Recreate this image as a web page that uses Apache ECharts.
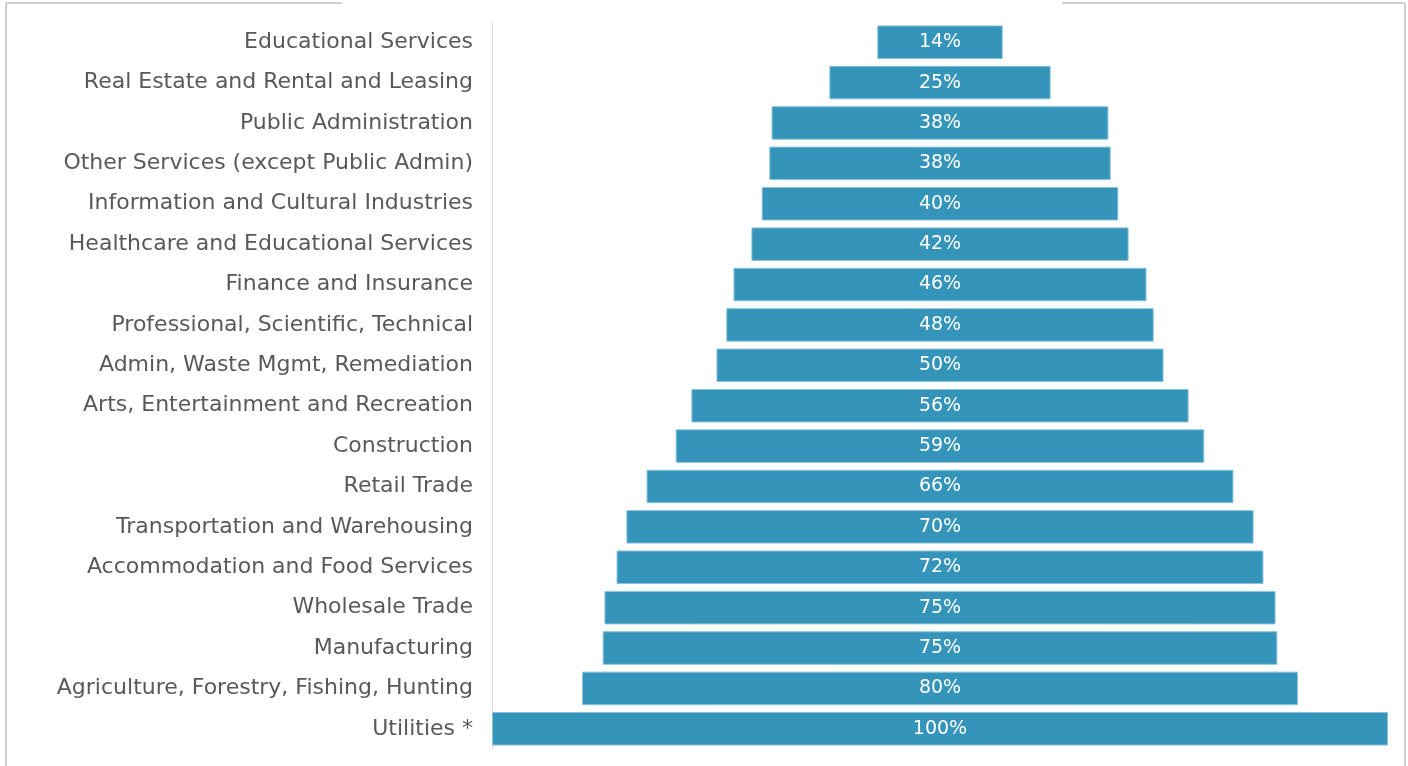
<!DOCTYPE html>
<html>
<head>
<meta charset="utf-8">
<script src="https://cdn.jsdelivr.net/npm/echarts@6/dist/echarts.min.js"></script>
<style>
  html, body { margin: 0; padding: 0; background: #fff; }
  #chart { width: 1408px; height: 766px; }
</style>
</head>
<body>
<div id="chart"></div>
<script>
// categories, bottom to top (category axis draws first item at the bottom)
const industries = [
  'Utilities *',
  'Agriculture, Forestry, Fishing, Hunting',
  'Manufacturing',
  'Wholesale Trade',
  'Accommodation and Food Services',
  'Transportation and Warehousing',
  'Retail Trade',
  'Construction',
  'Arts, Entertainment and Recreation',
  'Admin, Waste Mgmt, Remediation',
  'Professional, Scientific, Technical',
  'Finance and Insurance',
  'Healthcare and Educational Services',
  'Information and Cultural Industries',
  'Other Services (except Public Admin)',
  'Public Administration',
  'Real Estate and Rental and Leasing',
  'Educational Services'
];
// share (%)
const shares = [100, 79.9, 75.3, 74.9, 72.2, 70.0, 65.5, 59.0, 55.5, 49.9, 47.7, 46.1, 42.1, 39.8, 38.1, 37.6, 24.7, 14.0];

// invisible spacer so each bar is centred
const spacer = shares.map(v => (100 - v) / 2);

const chart = echarts.init(document.getElementById('chart'));
chart.setOption({
  backgroundColor: '#fff',
  animation: false,
  grid: { left: 492, right: 20, top: 22, bottom: 17 },
  xAxis: {
    type: 'value', min: 0, max: 100, show: false
  },
  yAxis: {
    type: 'category',
    data: industries,
    axisLine: { show: true, lineStyle: { color: '#d9d9d9', width: 1 } },
    axisTick: { show: false },
    axisLabel: {
      color: '#595959',
      fontSize: 22,
      fontFamily: '"DejaVu Sans", sans-serif',
      margin: 19
    }
  },
  series: [
    {
      type: 'bar',
      stack: 'f',
      data: spacer,
      itemStyle: { color: 'transparent' },
      barCategoryGap: '17%',
      silent: true
    },
    {
      type: 'bar',
      stack: 'f',
      data: shares,
      itemStyle: { color: '#3494ba', borderColor: '#8cc3dc', borderWidth: 1 },
      label: {
        show: true,
        position: 'inside',
        color: '#fff',
        fontSize: 19,
        fontFamily: '"DejaVu Sans", sans-serif',
        formatter: p => Math.round(p.value) + '%'
      }
    }
  ],
  graphic: [
    { type: 'line', shape: { x1: 6, y1: 3, x2: 342, y2: 3 }, style: { stroke: '#cfcfcf', lineWidth: 2 } },
    { type: 'line', shape: { x1: 1062, y1: 3, x2: 1405, y2: 3 }, style: { stroke: '#cfcfcf', lineWidth: 2 } },
    { type: 'line', shape: { x1: 6, y1: 3, x2: 6, y2: 766 }, style: { stroke: '#cfcfcf', lineWidth: 2 } },
    { type: 'line', shape: { x1: 1405, y1: 3, x2: 1405, y2: 766 }, style: { stroke: '#cfcfcf', lineWidth: 2 } }
  ]
});
</script>
</body>
</html>
